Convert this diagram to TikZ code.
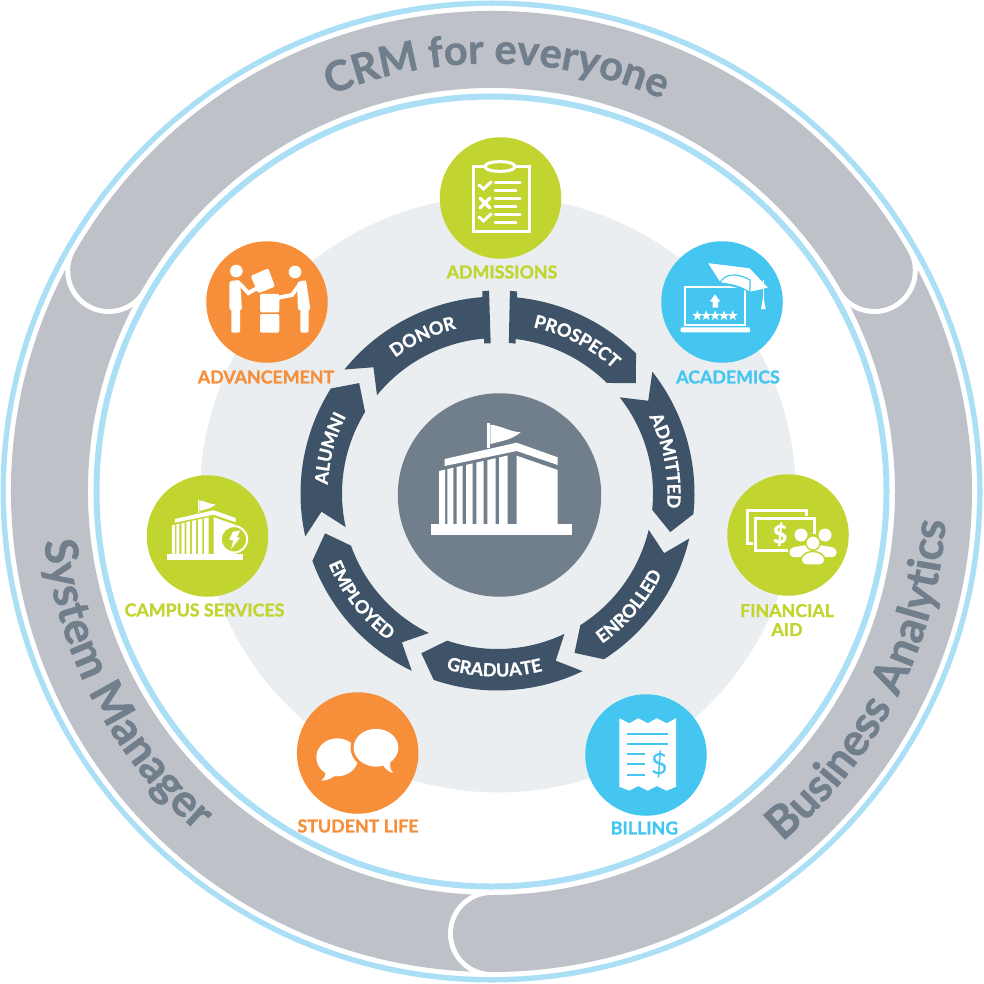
\documentclass[tikz,border=0pt]{standalone}
\usepackage{fontspec}
\usetikzlibrary{decorations.text,shapes.geometric}
\setmainfont{Lato}[BoldFeatures={FakeBold=1.2}]
\definecolor{ringblue}{HTML}{ABDFF6}
\definecolor{ringgray}{HTML}{BFC1C9}
\definecolor{ringtext}{HTML}{717E8B}
\definecolor{paleback}{HTML}{EBEEF0}
\definecolor{ribbon}{HTML}{3E5368}
\definecolor{limeicon}{HTML}{C1D42F}
\definecolor{skyicon}{HTML}{45C6F0}
\definecolor{orangeicon}{HTML}{F78F3A}
\newcommand{\ringfont}{\fontsize{41.5}{42}\selectfont\bfseries\color{ringtext}}
\newcommand{\sidefont}{\fontsize{45}{45}\selectfont\bfseries\color{ringtext}}
\newcommand{\ribfont}{\fontsize{18}{18}\selectfont\bfseries\color{white}}
\tikzset{
  iconbase/.style={circle, minimum size=121.5pt, inner sep=0pt},
  iconlabel/.style={font=\fontsize{17.8}{19}\selectfont\bfseries, align=center, inner sep=0pt},
  whiteline/.style={white, line width=3pt, line cap=round},
  arclabel/.style={decorate, decoration={text along path, text align=center, text={#1}}},
  building/.pic={
    \fill (-70.6,-5.4) rectangle (70.7,5.3);
    \fill (15.4,-74) -- (56.4,-59.7) -- (56.4,-5.4) -- (15.4,-5.4) -- cycle;
    \fill (-56.6,-70.7) -- (15.4,-87) -- (56.4,-72.4) -- (56.4,-64.7) -- (15.4,-78.7) -- (-56.6,-63.7) -- cycle;
    \foreach \xa/\ya/\xb/\yb in {-62.3/-58.7/-56.3/-60, -54/-60.6/-48/-61.9, -44.6/-62.7/-38.6/-64,
      -35.3/-64.8/-28.6/-66.3, -25/-67.1/-17.6/-68.8, -14/-69.6/-5.6/-71.5, -2.3/-72.2/6.4/-74.2}
      \fill (\xa,\ya) -- (\xb,\yb) -- (\xb,-5) -- (\xa,-5) -- cycle;
    \fill (-14.3,-106.4) rectangle (-11,-82);
    \fill (-11,-105) .. controls (0,-104) and (8,-98) .. (19.4,-97.4)
      .. controls (10,-90) and (2,-89) .. (-11,-85.7) -- cycle;
  }
}

\begin{document}
\begin{tikzpicture}[x=1pt, y=-1pt]
\useasboundingbox (0,0) rectangle (984,984);

% outer band
\begin{scope}[shift={(491.5,491.5)}]
\draw[ringblue, line width=6pt] (0,0) circle (488);
\draw[ringblue, line width=6pt] (0,0) circle (395);
\draw[white, line width=87pt, line cap=round] (210:442) arc (210:90:442);
\draw[ringgray, line width=77pt, line cap=round] (210:442) arc (210:90:442);
\draw[white, line width=87pt, line cap=round] (90:442) arc (90:-30:442);
\draw[ringgray, line width=77pt, line cap=round] (90:442) arc (90:-30:442);
\draw[white, line width=87pt, line cap=round] (-150:442) arc (-150:-30:442);
\draw[ringgray, line width=77pt, line cap=round] (-150:442) arc (-150:-30:442);
\path[arclabel={|\ringfont|CRM for everyone}] (-129.3:428) arc (-129.3:-49.3:428);
\path[arclabel={|\sidefont|Business Analytics}] (67:455) arc (67:-13:455);
\path[arclabel={|\sidefont|System Manager}] (192.3:450) arc (192.3:112.3:450);
\end{scope}

\fill[paleback] (498,494.5) circle (298);

% ribbons
\begin{scope}[shift={(497.5,493.5)}]
\fill[ribbon] (-86.5:203) -- (-84.5:203) -- (-84.3:197) arc (-84.3:-45.3:197) -- (-38.6:177)
  -- (-45.3:155.5) arc (-45.3:-83.3:155.5) -- (-83.1:151) -- (-85.7:151) -- cycle;
\fill[ribbon] (-38.2:197) arc (-38.2:6:197) -- (12.6:177) -- (6:155.5) arc (6:-38.2:155.5) -- (-31.6:177) -- cycle;
\fill[ribbon] (13.2:197) arc (13.2:57.3:197) -- (64.2:177) -- (57.8:155.5) arc (57.8:13.5:155.5) -- (19.7:177) -- cycle;
\fill[ribbon] (64.4:197) arc (64.4:108.9:197) -- (115.5:177) -- (108.9:155.5) arc (108.9:64.5:155.5) -- (70.8:177) -- cycle;
\fill[ribbon] (115.8:197) arc (115.8:160:197) -- (167:177) -- (160.4:155.5) arc (160.4:116.2:155.5) -- (122.7:177) -- cycle;
\fill[ribbon] (167.4:197) arc (167.4:212.2:197) -- (218.6:177) -- (211.6:155.5) arc (211.6:167.5:155.5) -- (174.1:177) -- cycle;
\fill[ribbon] (219:197) arc (219:265.6:197) -- (265.7:203) -- (267.6:203) -- (267.4:150.3) -- (264.9:150.8)
  -- (265:155.5) arc (265:219.2:155.5) -- (225.5:177) -- cycle;
\path[arclabel={|\ribfont|PROSPECT}] (-92.5:170) arc (-92.5:-32.5:170);
\path[arclabel={|\ribfont|ADMITTED}] (-41:170) arc (-41:19:170);
\path[arclabel={|\ribfont|ENROLLED}] (70.6:183) arc (70.6:10.6:183);
\path[arclabel={|\ribfont|GRADUATE}] (121:183) arc (121:61:183);
\path[arclabel={|\ribfont|EMPLOYED}] (172:183) arc (172:112:183);
\path[arclabel={|\ribfont|ALUMNI}] (165:170) arc (165:225:170);
\path[arclabel={|\ribfont|DONOR}] (214.5:170) arc (214.5:274.5:170);
\end{scope}

% hub
\node[circle, fill=ringtext, minimum size=203.5pt, inner sep=0pt] (hub) at (499.5,495) {};
\pic[white] at (501.3,529.7) {building};

% admissions
\node[iconbase, fill=limeicon] (admissions) at (500.5,198) {};
\node[iconlabel, text=limeicon] (admissionstxt) at (502,272) {ADMISSIONS};
\draw[whiteline, line cap=butt] (473,167) rectangle (529,232);
\draw[whiteline, fill=limeicon] (485,166.5) .. controls (485,160) and (515,160) .. (515,166.5) .. controls (515,173) and (485,173) .. (485,166.5) -- cycle;
\foreach \ya/\xb in {182.3/520, 190.3/516, 198.3/520, 206.3/516, 214.7/520, 222.7/516}
  \draw[whiteline] (495,\ya) -- (\xb,\ya);
\draw[whiteline] (479,185) -- (483.5,189) -- (491,182);
\draw[whiteline, line width=3.5pt] (480,198) -- (490,208) (490,198) -- (480,208);
\draw[whiteline] (479,217) -- (483.5,221) -- (491,214);

% advancement
\node[iconbase, fill=orangeicon] (advancement) at (267,302) {};
\node[iconlabel, text=orangeicon] (advancementtxt) at (266,377) {ADVANCEMENT};
\fill[white] (236.3,271) circle (6.3);
\fill[white, rounded corners=2pt] (229.3,310) -- (229.3,281) -- (240,280) -- (242,310) -- cycle;
\fill[white, rounded corners=2pt] (231.3,305) rectangle (240,332.7);
\draw[white, line width=4pt, line cap=round] (240,284) -- (248.3,293) -- (261,286);
\fill[white, rounded corners=1.5pt] (250.7,276) -- (268.3,268.3) -- (275,286.7) -- (258.3,293.3) -- cycle;
\fill[white, rounded corners=2pt] (260,293.8) rectangle (279.3,312.3);
\fill[white, rounded corners=2pt] (260,314) rectangle (279.3,332.7);
\fill[white] (295,272) circle (6.3);
\fill[white, rounded corners=2pt] (297,282) -- (306,280) -- (310.5,310) -- (298,310) -- cycle;
\fill[white, rounded corners=2pt] (300.3,305) rectangle (308.7,332.7);
\draw[white, line width=4pt, line cap=round] (300,284) -- (292,295) -- (277,298);

% academics
\node[iconbase, fill=skyicon] (academics) at (722,302) {};
\node[iconlabel, text=skyicon] (academicstxt) at (728,377) {ACADEMICS};
\draw[white, line width=2.6pt] (685,287) rectangle (745,325);
\fill[white, rounded corners=1pt] (680.7,327.3) rectangle (750,332.3);
\fill[white] (715,294.3) -- (720.3,301.7) -- (718,301.7) -- (718,307.7) -- (712.7,307.7) -- (712.7,301.7) -- (709.7,301.7) -- cycle;
\foreach \xa [count=\i] in {697.3,706.2,715,724,732.7}
  \node[star, star points=5, star point ratio=2.4, fill=white, inner sep=0pt, minimum size=10.5pt] (star\i) at (\xa,315.7) {};
\fill[white, draw=skyicon, line width=1.2pt] (706.7,262.3) -- (750,267.7) -- (769.3,288) -- (750,292.5) -- (749,290) -- (720,283) -- cycle;
\fill[white, draw=skyicon, line width=1.2pt] (720,283) .. controls (724,274) and (736,272) .. (750,280) -- (750,292.5) .. controls (740,286) and (730,284) .. (720,283) -- cycle;
\draw[white, line width=1.2pt] (763.3,280) -- (763.3,300);
\fill[white] (763.3,296) -- (765.7,309) -- (761,309) -- cycle;

% financial aid
\node[iconbase, fill=limeicon] (financial) at (788,535) {};
\node[iconlabel, text=limeicon] (financialtxt) at (787,620) {FINANCIAL\\AID};
\draw[whiteline, line cap=butt] (752.7,543) -- (747.3,543) -- (747.3,510.7) -- (806.7,510.7) -- (806.7,516);
\draw[whiteline, line cap=butt] (788,550.7) -- (755.7,550.7) -- (755.7,518.3) -- (814,518.3) -- (814,534);
\node[text=white, font=\fontsize{25}{25}\selectfont\bfseries, inner sep=0pt] (dollara) at (780,534.3) {\$};
\fill[white, rounded corners=4pt] (789.5,557) -- (789.5,548) -- (812,544) -- (812,557) -- cycle;
\fill[white, rounded corners=4pt] (836.5,557) -- (836.5,548) -- (814,544) -- (814,557) -- cycle;
\fill[white] (801,535) circle (6.5);
\fill[white] (825,535) circle (6.5);
\draw[limeicon, line width=1.5pt, fill=white] (813,543) circle (7.2);
\draw[limeicon, line width=1.5pt, fill=white, rounded corners=5pt] (801,565) -- (801,555) -- (813,550.5) -- (825,555) -- (825,565) -- cycle;

% billing
\node[iconbase, fill=skyicon] (billing) at (646,755) {};
\node[iconlabel, text=skyicon] (billingtxt) at (644.5,828) {BILLING};
\fill[white] (619.3,718.3) -- (629.3,723.3) -- (638.3,718.3) -- (647.7,723.3) -- (656.7,718.3) -- (666.7,723.3) -- (676,718.3)
  -- (676,786.7) -- (666.7,790.7) -- (656.7,786) -- (647.7,790.7) -- (638.3,786) -- (629.3,790.7) -- (619.3,786.7) -- cycle;
\foreach \ya/\xb in {734/668.3, 744/668.3, 754.3/645, 764.3/645, 774.7/645}
  \draw[skyicon, line width=2.3pt] (627.3,\ya) -- (\xb,\ya);
\node[text=skyicon, font=\fontsize{29}{29}\selectfont, inner sep=0pt] (dollarb) at (659.3,764) {\$};

% student life
\node[iconbase, fill=orangeicon] (student) at (357.7,753) {};
\node[iconlabel, text=orangeicon] (studenttxt) at (358,826) {STUDENT LIFE};
\fill[white] (337.3,757.3) ellipse (21 and 19);
\fill[white] (325,770) .. controls (326,775) and (325,778) .. (321,780.5) .. controls (327,781) and (332,778) .. (336,775) -- cycle;
\draw[orangeicon, line width=3pt, fill=white] (376,747.7) ellipse (24 and 20.5);
\fill[white] (380,762) .. controls (385,768) and (388,772) .. (393,773) .. controls (390,769) and (389,765) .. (391,760) -- cycle;

% campus services
\node[iconbase, fill=limeicon] (campus) at (207.5,536) {};
\node[iconlabel, text=limeicon] (campustxt) at (204.5,610) {CAMPUS SERVICES};
\pic[white, scale=.538] at (205.3,557) {building};
\draw[white, line width=2pt, fill=limeicon] (234,539.3) circle (13.2);
\fill[white] (232.7,531.7) -- (240,530.7) -- (236.7,537.7) -- (240,537.7) -- (231,549.3) -- (233.3,540) -- (229.3,540) -- cycle;
\end{tikzpicture}
\end{document}
